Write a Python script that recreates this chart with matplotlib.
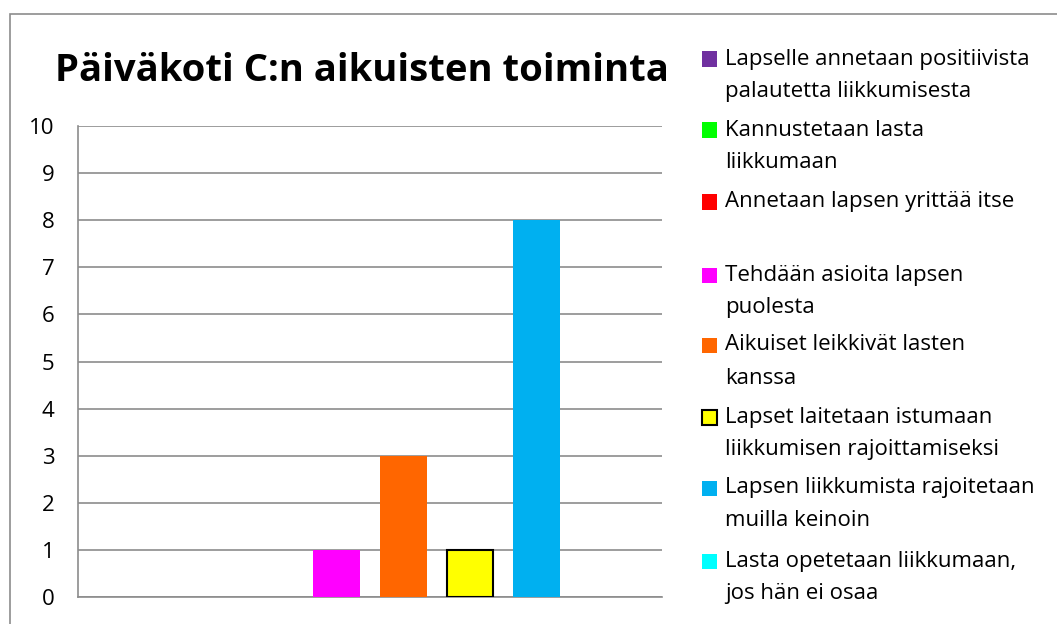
import matplotlib.pyplot as plt
from matplotlib.patches import Rectangle

plt.rcParams['font.family'] = ['Open Sans', 'DejaVu Sans']

title = "Päiväkoti C:n aikuisten toiminta"
labels = [
    "Lapselle annetaan positiivista\npalautetta liikkumisesta",
    "Kannustetaan lasta\nliikkumaan",
    "Annetaan lapsen yrittää itse",
    "Tehdään asioita lapsen\npuolesta",
    "Aikuiset leikkivät lasten\nkanssa",
    "Lapset laitetaan istumaan\nliikkumisen rajoittamiseksi",
    "Lapsen liikkumista rajoitetaan\nmuilla keinoin",
    "Lasta opetetaan liikkumaan,\njos hän ei osaa",
]
values = [0, 0, 0, 1, 3, 1, 8, 0]
colors = ['#7030A0', '#00FF00', '#FF0000', '#FF00FF',
          '#FF6600', '#FFFF00', '#00B0F0', '#00FFFF']
edges = ['none', 'none', 'none', 'none', 'none', 'black', 'none', 'none']

W, H = 1057, 624
fig = plt.figure(figsize=(W / 100, H / 100), dpi=100)

# outer chart border
fig.add_artist(Rectangle((10 / W, -0.1), 1.2, 1 - 14 / H + 0.1,
                         transform=fig.transFigure, fill=False,
                         edgecolor='#8c8c8c', lw=1.2))

ax = fig.add_axes([78 / W, 1 - 597 / H, (662 - 78) / W, (597 - 126) / H])
# one category, eight series side by side
x = list(range(len(values)))
for i in x:
    ax.bar(i, values[i], width=0.7, color=colors[i],
           edgecolor=edges[i], linewidth=1.5 if edges[i] != 'none' else 0,
           zorder=3)

ax.set_xlim(-0.88, 7.88)
ax.set_ylim(0, 10)
ax.set_yticks(range(0, 11))
ax.set_xticks([])
ax.tick_params(axis='y', length=0, pad=17, labelsize=16)
ax.grid(axis='y', color='#8c8c8c', lw=1.2, zorder=0)
for s in ['top', 'right']:
    ax.spines[s].set_visible(False)
for s in ['left', 'bottom']:
    ax.spines[s].set_color('#8c8c8c')
    ax.spines[s].set_linewidth(1.2)

fig.text(362 / W, 1 - 71 / H, title, ha='center', va='center',
         fontsize=27.5, fontweight='bold')

# legend, first line of each entry aligned with its marker
ys = [59, 130, 202, 275, 345, 417, 488, 561]
for lab, col, ec, y in zip(labels, colors, edges, ys):
    fig.add_artist(Rectangle((702 / W, 1 - (y + 7.5) / H), 15 / W, 15 / H,
                             transform=fig.transFigure, facecolor=col,
                             edgecolor='black' if ec != 'none' else col,
                             lw=1.5 if ec != 'none' else 0))
    for k, line in enumerate(lab.split('\n')):
        fig.text(725 / W, 1 - (y + 33 * k) / H, line, ha='left',
                 va='center', fontsize=16)

fig.savefig('out.png', dpi=100)
